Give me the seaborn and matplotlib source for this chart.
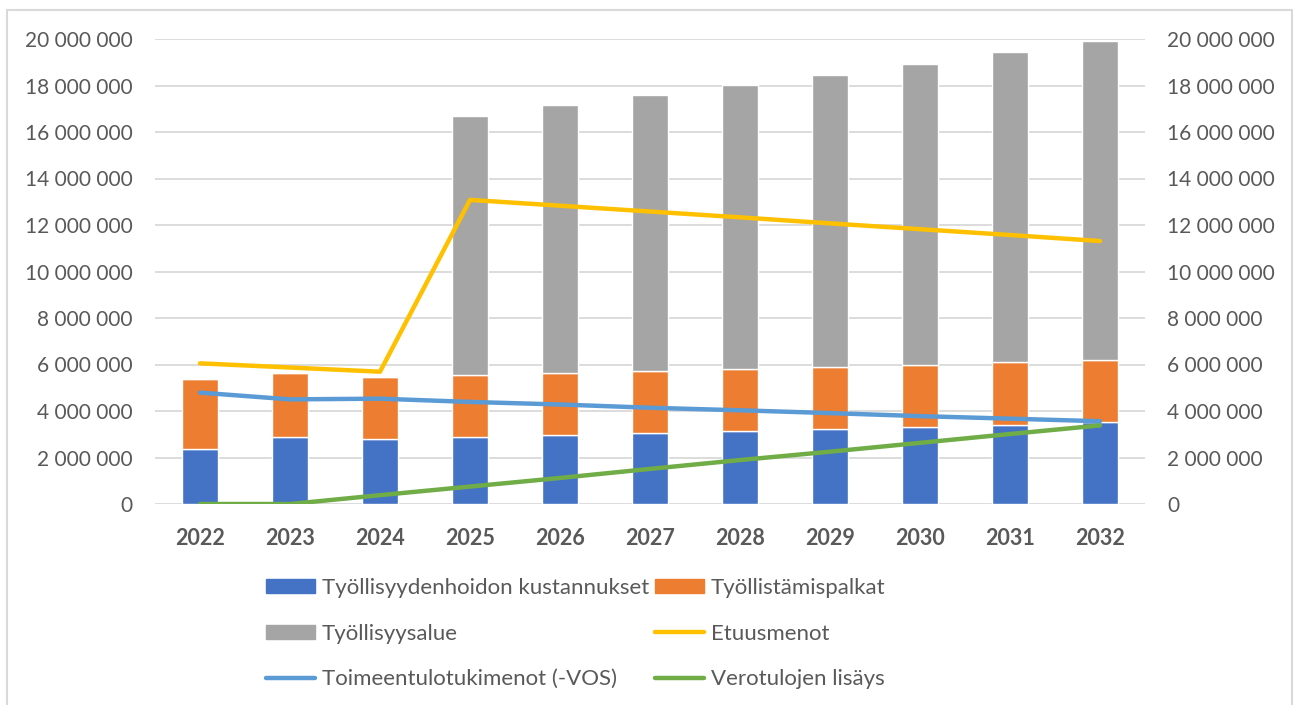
#!/usr/bin/env python3
import numpy as np
import pandas as pd
import seaborn as sns
import matplotlib.pyplot as plt
from matplotlib.ticker import FuncFormatter, MultipleLocator
from matplotlib.patches import Rectangle, Patch
from matplotlib.lines import Line2D

sns.set_theme(style="white")
plt.rcParams["font.family"] = ["Lato", "DejaVu Sans"]

# data
years = ["2022", "2023", "2024", "2025", "2026", "2027", "2028", "2029", "2030", "2031", "2032"]
kustannukset = [2.35, 2.87, 2.78, 2.87, 2.97, 3.04, 3.15, 3.24, 3.33, 3.41, 3.54]
palkat = [3.01, 2.78, 2.68, 2.66, 2.65, 2.67, 2.64, 2.65, 2.65, 2.70, 2.67]
alue = [0.0, 0.0, 0.0, 11.16, 11.54, 11.88, 12.23, 12.56, 12.94, 13.33, 13.70]
etuusmenot = [6.05, 5.87, 5.69, 13.08, 12.83, 12.58, 12.33, 12.07, 11.82, 11.57, 11.31]
toimeentulo = [4.79, 4.50, 4.53, 4.39, 4.28, 4.14, 4.03, 3.91, 3.78, 3.67, 3.56]
verotulot = [0.0, 0.0, 0.38, 0.75, 1.12, 1.51, 1.89, 2.25, 2.63, 3.01, 3.38]

bar_colors = ["#4472C4", "#ED7D31", "#A5A5A5"]
line_colors = ["#FFC000", "#5B9BD5", "#70AD47"]
names = ["Työllisyydenhoidon kustannukset", "Työllistämispalkat", "Työllisyysalue",
         "Etuusmenot", "Toimeentulotukimenot (-VOS)", "Verotulojen lisäys"]
text_col = "#595959"
grid_col = "#D9D9D9"

M = 1e6
df = pd.DataFrame({
    "year": years,
    "kust": np.array(kustannukset) * M,
    "palk": np.array(palkat) * M,
    "alue": np.array(alue) * M,
    "etuus": np.array(etuusmenot) * M,
    "toim": np.array(toimeentulo) * M,
    "vero": np.array(verotulot) * M,
})
df["pos"] = np.arange(len(df))

fig = plt.figure(figsize=(12.93, 7.05), dpi=100)
ax = fig.add_axes([155 / 1293, 1 - 504 / 705, (1145 - 155) / 1293, (504 - 39) / 705])

bottom = np.zeros(len(df))
for col, c in zip(["kust", "palk", "alue"], bar_colors):
    sns.barplot(data=df, x="year", y=col, color=c, width=0.4, bottom=bottom,
                saturation=1, ax=ax, zorder=2)
    bottom = bottom + df[col].values

ax2 = ax.twinx()
for col, c in zip(["etuus", "toim", "vero"], line_colors):
    sns.lineplot(data=df, x="pos", y=col, color=c, linewidth=3.2,
                 solid_capstyle="round", ax=ax2, zorder=3)

fmt = FuncFormatter(lambda v, p: f"{v:,.0f}".replace(",", " "))
for a in (ax, ax2):
    a.set_ylim(0, 20 * M)
    a.yaxis.set_major_locator(MultipleLocator(2 * M))
    a.yaxis.set_major_formatter(fmt)
    a.set_xlim(-0.5, len(df) - 0.5)
    a.set_xlabel("")
    a.set_ylabel("")
    for s in a.spines.values():
        s.set_visible(False)
    a.tick_params(axis="y", length=0, labelsize=15, labelcolor=text_col, pad=16)

ax.yaxis.grid(True, color=grid_col, linewidth=1.3, zorder=0)
ax.set_axisbelow(True)
ax.tick_params(axis="x", length=0, labelsize=15.5, labelcolor=text_col, pad=17)
for lab in ax.get_xticklabels():
    lab.set_fontweight("bold")
ax2.tick_params(axis="x", length=0, labelbottom=False)

# outer frame
fig.patches.append(Rectangle((7 / 1293, -0.01), (1292 - 7) / 1293, 1 - 10 / 705 + 0.01,
                             transform=fig.transFigure, fill=False,
                             edgecolor=grid_col, linewidth=1.5))

def line_handle(c):
    return Line2D([], [], color=c, linewidth=3.2, solid_capstyle="round")

# legend filled row by row: (blue, orange), (gray, yellow), (light blue, green)
handles = [Patch(color=bar_colors[0]), Patch(color=bar_colors[2]), line_handle(line_colors[1]),
           Patch(color=bar_colors[1]), line_handle(line_colors[0]), line_handle(line_colors[2])]
labels = [names[0], names[2], names[4], names[1], names[3], names[5]]
leg = fig.legend(handles, labels, ncol=2, loc="upper left",
                 bbox_to_anchor=(266 / 1293, 1 - 578 / 705), frameon=False,
                 fontsize=16, labelcolor=text_col, handlelength=2.2, handleheight=0.6,
                 handletextpad=0.3, columnspacing=0.3, labelspacing=1.15,
                 borderaxespad=0, borderpad=0)

fig.savefig("out.png", dpi=100)
